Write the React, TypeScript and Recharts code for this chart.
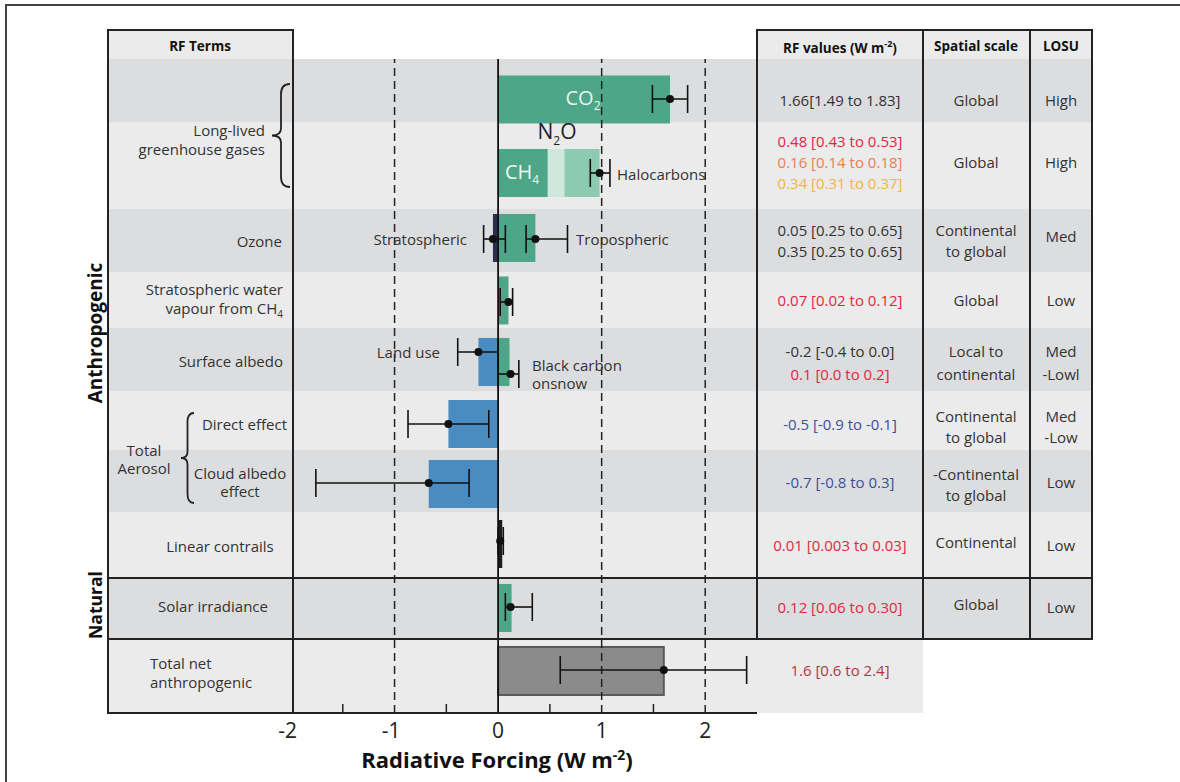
import React from 'react';
import {
  Bar,
  Cell,
  ComposedChart,
  ErrorBar,
  ReferenceLine,
  Scatter,
  XAxis,
  YAxis,
} from 'recharts';

// ---- values ----
const rfTerms = [
  'CO2',
  'Long-lived greenhouse gases',
  'Ozone',
  'Stratospheric water vapour',
  'Surface albedo',
  'Direct effect',
  'Cloud albedo effect',
  'Linear contrails',
  'Solar irradiance',
  'Total net anthropogenic',
];
const positiveRF = [1.66, 0.48, 0.36, 0.1, 0.11, 0, 0, 0.04, 0.13, 1.6];
const n2oRF = [0, 0.16, 0, 0, 0, 0, 0, 0, 0, 0];
const halocarbonRF = [0, 0.34, 0, 0, 0, 0, 0, 0, 0, 0];
const negativeRF = [0, 0, -0.05, 0, -0.19, -0.48, -0.67, 0, 0, 0];

// uncertainty ranges (one per marker)
const rangeTerms = [
  'CO2', 'LLGHG', 'Stratospheric O3', 'Tropospheric O3', 'Strat. H2O', 'Land use',
  'BC on snow', 'Direct effect', 'Cloud albedo', 'Contrails', 'Solar', 'Total net',
];
const rangeBest = [1.66, 0.98, -0.05, 0.36, 0.1, -0.19, 0.12, -0.48, -0.67, 0.02, 0.12, 1.6];
const rangeLow = [1.49, 0.89, -0.14, 0.27, 0.02, -0.39, 0.0, -0.87, -1.76, 0.0, 0.07, 0.6];
const rangeHigh = [1.83, 1.08, 0.07, 0.67, 0.14, 0.0, 0.2, -0.09, -0.28, 0.05, 0.33, 2.4];

const xTicks = [-2, -1.5, -1, -0.5, 0, 0.5, 1, 1.5, 2];

const RED = '#e2263e';
const ORANGE = '#ef7c4f';
const YELLOW = '#f5b440';
const BLUE = '#3c4f9f';
const DARK = '#333';

const rfValues: [string, string][][] = [
  [['1.66[1.49 to 1.83]', DARK]],
  [['0.48 [0.43 to 0.53]', RED], ['0.16 [0.14 to 0.18]', ORANGE], ['0.34 [0.31 to 0.37]', YELLOW]],
  [['0.05 [0.25 to 0.65]', DARK], ['0.35 [0.25 to 0.65]', DARK]],
  [['0.07 [0.02 to 0.12]', RED]],
  [['-0.2 [-0.4 to 0.0]', DARK], ['0.1 [0.0 to 0.2]', RED]],
  [['-0.5 [-0.9 to -0.1]', BLUE]],
  [['-0.7 [-0.8 to 0.3]', BLUE]],
  [['0.01 [0.003 to 0.03]', RED]],
  [['0.12 [0.06 to 0.30]', RED]],
  [['1.6 [0.6 to 2.4]', '#b23446']],
];
const spatialScale = [
  ['Global'], ['Global'], ['Continental', 'to global'], ['Global'], ['Local to', 'continental'],
  ['Continental', 'to global'], ['-Continental', 'to global'], ['Continental'], ['Global'],
];
const losu = [['High'], ['High'], ['Med'], ['Low'], ['Med', '-Lowl'], ['Med', '-Low'], ['Low'], ['Low'], ['Low']];

// ---- layout (page pixels) ----
const ROW_EDGES = [59, 122, 209, 272, 328, 391, 450, 512, 578, 639, 713];
const BAR_Y = [99.5, 173, 238, 300.5, 362, 424, 484, 544, 608, 671];
const POINT_Y = [99, 173, 239, 239, 302, 352, 374, 424, 483, 541, 607, 670];
const VALUE_Y = [100, 162, 240.5, 300, 362.5, 424, 482, 545, 607, 670];
const SCALE_Y = [100, 162, 240.5, 300, 362.5, 426.5, 484.5, 542, 604];
const LOSU_Y = [100, 162, 236, 300, 362.5, 426.5, 482, 545, 607];
const BAR_H = 48;

const GREEN = '#4ea688';
const posColors = [GREEN, GREEN, GREEN, GREEN, GREEN, GREEN, GREEN, '#1c1c1c', GREEN, '#8b8b8b'];
const negColors = ['', '', '#2e2b4f', '', '#4a8cc2', '#4a8cc2', '#4a8cc2', '', '', ''];

const rows = rfTerms.map((term, i) => ({
  term,
  y: BAR_Y[i],
  pos: positiveRF[i],
  n2o: n2oRF[i],
  halo: halocarbonRF[i],
  neg: negativeRF[i],
}));

const points = rangeTerms.map((term, i) => ({
  term,
  x: rangeBest[i],
  y: POINT_Y[i],
  err: [rangeBest[i] - rangeLow[i], rangeHigh[i] - rangeBest[i]],
}));

const FONT = '"Open Sans", "Noto Sans", sans-serif';

const Txt = ({ x, y, children, align = 'center', size = 15, color = DARK, bold = false, lh = 19 }: any) => {
  const tx = align === 'center' ? '-50%' : align === 'right' ? '-100%' : '0';
  return (
    <div
      style={{
        position: 'absolute',
        left: x,
        top: y,
        transform: `translate(${tx}, -50%)`,
        whiteSpace: 'nowrap',
        fontSize: size,
        color,
        fontWeight: bold ? 700 : 400,
        lineHeight: `${lh}px`,
        textAlign: align,
      }}
    >
      {children}
    </div>
  );
};

// keeps the bar's scaled x extent and centre, with a fixed thickness
const RFBar = (props: any) => {
  const { x, y, width, height, fill, stroke, strokeWidth } = props;
  if (!width) return null;
  const cy = y + height / 2;
  return (
    <rect
      x={Math.min(x, x + width)}
      y={cy - BAR_H / 2}
      width={Math.abs(width)}
      height={BAR_H}
      fill={fill}
      stroke={stroke}
      strokeWidth={strokeWidth}
    />
  );
};

const AxisTick = (props: any) => {
  const { x, y, payload } = props;
  const v = payload.value;
  if (!Number.isInteger(v)) {
    return <line x1={x} x2={x} y1={y} y2={y - 9} stroke="#222" strokeWidth={1.5} />;
  }
  return (
    <text
      x={v < 0 ? x + 6 : x}
      y={y + 25}
      textAnchor={v < 0 ? 'end' : 'middle'}
      fontSize={21}
      fill="#222"
      fontFamily={FONT}
    >
      {v}
    </text>
  );
};

const brace = (xl: number, xr: number, y0: number, y1: number) => {
  const xm = (xl + xr) / 2;
  const ym = (y0 + y1) / 2;
  const h = y1 - y0;
  return `M${xr},${y0} Q${xm},${y0} ${xm},${y0 + h * 0.1} L${xm},${ym - h * 0.07} Q${xm},${ym} ${xl},${ym} Q${xm},${ym} ${xm},${ym + h * 0.07} L${xm},${y1 - h * 0.1} Q${xm},${y1} ${xr},${y1}`;
};

const App = () => {
  const line = '#222';
  return (
    <div
      style={{
        position: 'absolute',
        left: 0,
        top: 0,
        width: 1180,
        height: 782,
        background: '#fff',
        fontFamily: FONT,
        overflow: 'hidden',
      }}
    >
      {/* header cells */}
      <div style={{ position: 'absolute', left: 108, top: 30, width: 185, height: 29, background: '#ebebeb' }} />
      <div style={{ position: 'absolute', left: 757, top: 30, width: 335, height: 29, background: '#ebebeb' }} />
      {/* row stripes */}
      {rfTerms.map((t, i) => (
        <div
          key={t}
          style={{
            position: 'absolute',
            left: 108,
            top: ROW_EDGES[i],
            width: i === 9 ? 815 : 984,
            height: ROW_EDGES[i + 1] - ROW_EDGES[i],
            background: i % 2 === 0 ? '#dcdddf' : '#ebebeb',
          }}
        />
      ))}

      <div style={{ position: 'absolute', left: 0, top: 0 }}>
        <ComposedChart
          width={1180}
          height={782}
          data={rows}
          layout="vertical"
          stackOffset="sign"
          margin={{ top: 59, left: 291, right: 423, bottom: 0 }}
        >
          <XAxis
            type="number"
            dataKey="x"
            domain={[-2, 2.5]}
            ticks={xTicks}
            interval={0}
            allowDataOverflow
            height={69}
            tickSize={0}
            tickMargin={0}
            tickLine={false}
            axisLine={{ stroke: line, strokeWidth: 2 }}
            tick={<AxisTick />}
          />
          <YAxis type="number" dataKey="y" domain={[59, 713]} hide allowDataOverflow />
          <Bar dataKey="pos" stackId="rf" barSize={BAR_H} shape={<RFBar />} isAnimationActive={false}>
            {rows.map((r, i) => (
              <Cell
                key={r.term}
                fill={posColors[i]}
                stroke={i === 9 ? '#5a5a5a' : 'none'}
                strokeWidth={i === 9 ? 2 : 0}
              />
            ))}
          </Bar>
          <Bar dataKey="n2o" stackId="rf" barSize={BAR_H} shape={<RFBar />} fill="#cfe8de" isAnimationActive={false} />
          <Bar dataKey="halo" stackId="rf" barSize={BAR_H} shape={<RFBar />} fill="#8ccab2" isAnimationActive={false} />
          <Bar dataKey="neg" stackId="rf" barSize={BAR_H} shape={<RFBar />} isAnimationActive={false}>
            {rows.map((r, i) => (
              <Cell key={r.term} fill={negColors[i] || '#4a8cc2'} />
            ))}
          </Bar>
          <ReferenceLine x={-1} stroke={line} strokeWidth={1.5} strokeDasharray="8 5" />
          <ReferenceLine x={1} stroke={line} strokeWidth={1.5} strokeDasharray="8 5" />
          <ReferenceLine x={2} stroke={line} strokeWidth={1.5} strokeDasharray="8 5" />
          <ReferenceLine x={0} stroke="#111" strokeWidth={1.8} />
          <Scatter
            data={points}
            isAnimationActive={false}
            shape={(p: any) => <circle cx={p.cx} cy={p.cy} r={4} fill="#111" />}
          >
            <ErrorBar dataKey="err" direction="x" width={14} stroke="#111" strokeWidth={1.6} />
          </Scatter>
        </ComposedChart>
      </div>

      {/* table frame lines and braces */}
      <svg width={1180} height={782} style={{ position: 'absolute', left: 0, top: 0, pointerEvents: 'none' }}>
        <g stroke={line} strokeWidth={2} fill="none">
          <path d="M6,782 L6,5 L1180,5" stroke="#444" strokeWidth={2} />
          <rect x={108} y={30} width={185} height={683} />
          <rect x={757} y={30} width={335} height={609} />
          <line x1={923} x2={923} y1={30} y2={639} />
          <line x1={1030} x2={1030} y1={30} y2={639} />
          <line x1={108} x2={1092} y1={578} y2={578} />
          <line x1={108} x2={1092} y1={639} y2={639} />
          <path d={brace(272, 290, 84, 187)} strokeWidth={1.8} />
          <path d={brace(181, 194, 413, 503)} strokeWidth={1.8} />
        </g>
      </svg>

      {/* group labels */}
      <div
        style={{
          position: 'absolute', left: 95, top: 333, transform: 'translate(-50%, -50%) rotate(-90deg)',
          fontWeight: 700, fontSize: 19, color: '#111', whiteSpace: 'nowrap',
        }}
      >
        Anthropogenic
      </div>
      <div
        style={{
          position: 'absolute', left: 95, top: 605, transform: 'translate(-50%, -50%) rotate(-90deg)',
          fontWeight: 700, fontSize: 17.5, color: '#111', whiteSpace: 'nowrap',
        }}
      >
        Natural
      </div>

      {/* left table */}
      <Txt x={200} y={46} size={13.5} bold color="#111">RF Terms</Txt>
      <Txt x={265} y={140} align="right">Long-lived<br />greenhouse gases</Txt>
      <Txt x={282} y={241} align="right">Ozone</Txt>
      <Txt x={283} y={302} align="right">Stratospheric water<br />vapour from CH<sub style={{ fontSize: 10 }}>4</sub></Txt>
      <Txt x={283} y={361} align="right">Surface albedo</Txt>
      <Txt x={144} y={459} lh={18}>Total<br />Aerosol</Txt>
      <Txt x={287} y={424} align="right">Direct effect</Txt>
      <Txt x={240} y={482} lh={18}>Cloud albedo<br />effect</Txt>
      <Txt x={220} y={546}>Linear contrails</Txt>
      <Txt x={213} y={606}>Solar irradiance</Txt>
      <Txt x={150} y={673} align="left">Total net<br />anthropogenic</Txt>

      {/* in-plot annotations */}
      <Txt x={583} y={101} size={20} color="#e8f4ee">CO<sub style={{ fontSize: 12 }}>2</sub></Txt>
      <Txt x={557} y={136} size={21} color="#222">N<sub style={{ fontSize: 12 }}>2</sub>O</Txt>
      <Txt x={522} y={175} size={20} color="#eef7f2">CH<sub style={{ fontSize: 12 }}>4</sub></Txt>
      <Txt x={617} y={174} align="left">Halocarbons</Txt>
      <Txt x={467} y={239} align="right">Stratospheric</Txt>
      <Txt x={576} y={239} align="left">Tropospheric</Txt>
      <Txt x={440} y={352} align="right">Land use</Txt>
      <Txt x={532} y={374} align="left" lh={18}>Black carbon<br />onsnow</Txt>

      {/* right table */}
      <Txt x={840} y={46} size={13.5} bold color="#111">RF values (W m<sup style={{ fontSize: 9 }}>-2</sup>)</Txt>
      <Txt x={976} y={46} size={13.5} bold color="#111">Spatial scale</Txt>
      <Txt x={1061} y={46} size={13.5} bold color="#111">LOSU</Txt>
      {rfValues.map((lines, i) => (
        <Txt key={`v${i}`} x={840} y={VALUE_Y[i]} lh={i === 4 ? 23 : 21}>
          {lines.map(([s, c], j) => (
            <div key={j} style={{ color: c }}>{s}</div>
          ))}
        </Txt>
      ))}
      {spatialScale.map((lines, i) => (
        <Txt key={`s${i}`} x={976} y={SCALE_Y[i]} lh={i === 4 ? 23 : 21}>
          {lines.map((s, j) => <div key={j}>{s}</div>)}
        </Txt>
      ))}
      {losu.map((lines, i) => (
        <Txt key={`l${i}`} x={1061} y={LOSU_Y[i]} lh={i === 4 ? 23 : 21}>
          {lines.map((s, j) => <div key={j}>{s}</div>)}
        </Txt>
      ))}

      {/* axis title */}
      <Txt x={497} y={757} size={22} bold color="#111">
        Radiative Forcing (W m<sup style={{ fontSize: 14 }}>-2</sup>)
      </Txt>
    </div>
  );
};

export default App;
